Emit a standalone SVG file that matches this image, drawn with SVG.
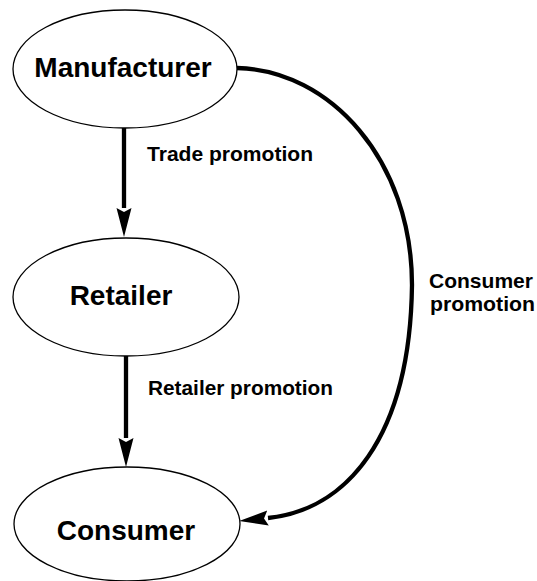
<svg xmlns="http://www.w3.org/2000/svg" width="537" height="581" viewBox="0 0 537 581">
  <style>
    .node ellipse { fill: #ffffff; stroke: #000000; stroke-width: 1.3; }
    .node text { font-family: "Liberation Sans", Arial, sans-serif; font-weight: bold; font-size: 28px; fill: #000000; text-anchor: middle; }
    .edge { fill: none; stroke: #000000; stroke-width: 4.3; }
    .label { font-family: "Liberation Sans", Arial, sans-serif; font-weight: bold; font-size: 20.5px; fill: #000000; }
  </style>
  <defs>
    <marker id="arrow" viewBox="0 0 30 16" refX="0" refY="8" markerWidth="30" markerHeight="16" markerUnits="userSpaceOnUse" orient="auto">
      <path d="M0,0.5 L29,8 L0,15.5 L4,8 z" fill="#000000"/>
    </marker>
  </defs>

  <rect x="0" y="0" width="537" height="581" fill="#ffffff"/>

  <!-- connectors -->
  <g id="connectors">
    <path class="edge" d="M124,128 L124,208" marker-end="url(#arrow)"/>
    <path class="edge" d="M126,356 L126,438" marker-end="url(#arrow)"/>
    <path class="edge" d="M237,68 C330,70 412,160 412,285 C410,440 345,510 268,518" marker-end="url(#arrow)"/>
    <text class="label" x="147" y="161" textLength="166" lengthAdjust="spacingAndGlyphs">Trade promotion</text>
    <text class="label" x="148" y="395" textLength="185" lengthAdjust="spacingAndGlyphs">Retailer promotion</text>
    <text class="label" x="429" y="288" textLength="104" lengthAdjust="spacingAndGlyphs">Consumer</text>
    <text class="label" x="430" y="311" textLength="105" lengthAdjust="spacingAndGlyphs">promotion</text>
  </g>

  <!-- nodes -->
  <g id="manufacturer" class="node">
    <ellipse cx="125" cy="69" rx="112" ry="59"/>
    <text x="123" y="77">Manufacturer</text>
  </g>
  <g id="retailer" class="node">
    <ellipse cx="126" cy="297" rx="113" ry="59"/>
    <text x="121" y="305">Retailer</text>
  </g>
  <g id="consumer" class="node">
    <ellipse cx="127" cy="524" rx="113" ry="57"/>
    <text x="126" y="540">Consumer</text>
  </g>
</svg>
